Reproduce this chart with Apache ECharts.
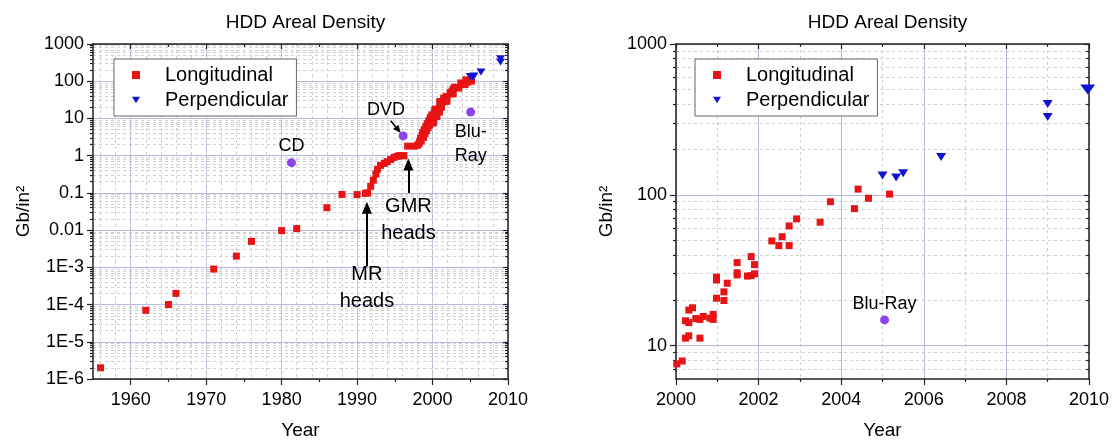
<!DOCTYPE html>
<html>
<head>
<meta charset="utf-8">
<script src="https://cdn.jsdelivr.net/npm/echarts@6/dist/echarts.min.js"></script>
<style>
  html, body { margin: 0; padding: 0; background: #fff; }
  #chart { width: 1117px; height: 441px; }
</style>
</head>
<body>
<div id="chart"></div>
<script>
// Hard-disk areal density (Gb/in²) by year, with optical discs for reference.

// Longitudinal recording, 1956-1999
const longitudinalEarly = [
  [1956, 2e-6], [1962, 7e-5], [1965, 1e-4], [1966, 2e-4], [1971, 9e-4], [1974, 2e-3],
  [1976, 5e-3], [1980, 0.0097], [1982, 0.011], [1986, 0.04], [1988, 0.091], [1990, 0.09],
  [1991.1, 0.097], [1991.4, 0.1], [1991.8, 0.15], [1992.15, 0.22], [1992.5, 0.32],
  [1992.7, 0.43], [1993.1, 0.55], [1993.6, 0.62], [1994.0, 0.69], [1994.45, 0.79],
  [1994.9, 0.9], [1995.3, 0.96], [1995.6, 1.0], [1995.9, 1.0], [1996.2, 1.0],
  [1996.7, 1.8], [1997.6, 1.8], [1998.0, 1.9], [1998.2, 2.1],
  [1998.3, 2.4], [1998.4, 2.9], [1998.5, 2.5], [1998.6, 3.5], [1998.7, 4.2], [1998.8, 3.1],
  [1998.9, 5.0], [1999.0, 3.9], [1999.1, 6.0], [1999.2, 4.7], [1999.3, 7.2], [1999.4, 5.6],
  [1999.5, 8.7], [1999.6, 6.6], [1999.7, 10.5], [1999.8, 8.0], [1999.9, 12.5], [1999.95, 9.3]
];

// Longitudinal recording, 2000-2005
const longitudinalRecent = [
  [2000.02, 7.55], [2000.15, 7.9], [2000.23, 11.2], [2000.31, 11.6], [2000.23, 14.6],
  [2000.31, 14.2], [2000.31, 17.2], [2000.4, 17.8], [2000.48, 15.1], [2000.58, 14.9],
  [2000.58, 11.2], [2000.66, 15.6], [2000.82, 15.2], [2000.9, 14.9], [2000.9, 16.1],
  [2000.98, 20.6], [2000.98, 28.4], [2000.98, 27.2], [2001.16, 22.7], [2001.16, 19.9],
  [2001.24, 25.9], [2001.48, 35.5], [2001.48, 30.4], [2001.48, 29.4], [2001.73, 28.9],
  [2001.82, 29.1], [2001.82, 38.9], [2001.9, 34.4], [2001.9, 29.9], [2002.32, 49.4],
  [2002.49, 46], [2002.57, 52.7], [2002.74, 46], [2002.74, 62.1], [2002.92, 69.2],
  [2003.49, 65.8], [2003.74, 89.9], [2004.32, 80.9], [2004.41, 109], [2004.66, 94.8],
  [2005.17, 101]
];

// Perpendicular recording
const perpendicular = [
  [2005.0, 134], [2005.33, 130], [2005.5, 139], [2006.42, 178], [2009.0, 400], [2009.0, 328]
];
const perpendicularLatest = [[2009.97, 500]];

// Optical discs
const opticalNames = ['CD', 'DVD', 'Blu-Ray'];
const opticalYears = [1981.3, 1996.1, 2005.05];
const opticalDensity = [0.65, 3.4, 14.8];

// Axis ticks and labels
const overviewYearTicks = [1960, 1970, 1980, 1990, 2000, 2010];
const overviewYearMinorTicks = [1965, 1975, 1985, 1995, 2005];
const overviewDensityTicks = [1e-6, 1e-5, 1e-4, 1e-3, 0.01, 0.1, 1, 10, 100, 1000];
const overviewDensityLabels = ['1E-6', '1E-5', '1E-4', '1E-3', '0.01', '0.1', '1', '10', '100', '1000'];
const detailDensityTicks = [10, 100, 1000];
const detailDensityLabels = ['10', '100', '1000'];

// ---- styling ----
const FONT = '"Liberation Sans", Arial, sans-serif';
const INK = '#000';
const AXIS_COLOR = '#222';
const MAJOR_GRID = '#b7b7e2';
const MINOR_GRID = '#d0d0d0';
const RED = '#e61414';
const BLUE = '#1212d2';
const PURPLE = '#8a44ee';
const TRIANGLE_DOWN = 'path://M0,0L10,0L5,8Z';
const ARROW_HEAD = 'path://M5,0L10,12L0,12Z';

// Minor log-scale tick values (2..9 x 10^k) inside [lo, hi]
function minorLogValues(lo, hi) {
  const out = [];
  for (let k = Math.floor(Math.log10(lo)); k <= Math.ceil(Math.log10(hi)); k++) {
    for (let m = 2; m <= 9; m++) {
      const v = Number((m * Math.pow(10, k)).toPrecision(6));
      if (v > lo && v < hi) out.push(v);
    }
  }
  return out;
}
function evenYears(lo, hi) {
  const out = [];
  for (let y = Math.ceil(lo / 2) * 2; y <= hi; y += 2) out.push(y);
  return out;
}
function labelFor(ticks, labels) {
  return function (v) {
    for (let i = 0; i < ticks.length; i++) {
      if (Math.abs(Math.log10(ticks[i]) - Math.log10(v)) < 1e-6) return labels[i];
    }
    return '';
  };
}
function plainYear(v) { return String(Math.round(v)); }

const labelText = { fontSize: 18, color: INK, fontFamily: FONT };
const nameText = { fontSize: 19, color: INK, fontFamily: FONT };
const axisLineStyle = { show: true, onZero: false, lineStyle: { color: AXIS_COLOR, width: 1.5 } };
const hiddenLine = { show: false, onZero: false };
const tickStyle = { color: AXIS_COLOR, width: 1.2 };

const OV = { xMin: 1955, xMax: 2010, yMin: 1e-6, yMax: 1000 };
const DT = { xMin: 2000, xMax: 2010, yMin: 6, yMax: 1000 };

const xAxes = [
  // overview, bottom: labels and decade ticks
  { gridIndex: 0, type: 'value', min: OV.xMin, max: OV.xMax, position: 'bottom',
    axisLine: axisLineStyle,
    axisTick: { show: true, customValues: overviewYearTicks, length: 6, lineStyle: tickStyle },
    axisLabel: Object.assign({ customValues: overviewYearTicks, margin: 12, formatter: plainYear }, labelText),
    splitLine: { show: true, lineStyle: { color: MAJOR_GRID, width: 1 } },
    name: 'Year', nameLocation: 'middle', nameGap: 42, nameTextStyle: nameText },
  // overview, bottom: half-decade ticks
  { gridIndex: 0, type: 'value', min: OV.xMin, max: OV.xMax, position: 'bottom',
    axisLine: hiddenLine, axisLabel: { show: false },
    axisTick: { show: true, customValues: overviewYearMinorTicks, length: 3, lineStyle: tickStyle },
    splitLine: { show: false } },
  // overview: dashed grid every two years
  { gridIndex: 0, type: 'value', min: OV.xMin, max: OV.xMax, position: 'bottom',
    axisLine: hiddenLine, axisLabel: { show: false },
    axisTick: { show: false, customValues: evenYears(OV.xMin, OV.xMax) },
    splitLine: { show: true, lineStyle: { color: MINOR_GRID, width: 1, type: [3, 3] } } },
  // overview, top frame
  { gridIndex: 0, type: 'value', min: OV.xMin, max: OV.xMax, position: 'top',
    axisLine: axisLineStyle, axisLabel: { show: false },
    axisTick: { show: true, inside: true, customValues: overviewYearTicks, length: 5, lineStyle: tickStyle },
    splitLine: { show: false } },
  { gridIndex: 0, type: 'value', min: OV.xMin, max: OV.xMax, position: 'top',
    axisLine: hiddenLine, axisLabel: { show: false },
    axisTick: { show: true, inside: true, customValues: overviewYearMinorTicks, length: 3, lineStyle: tickStyle },
    splitLine: { show: false } },
  // detail, bottom
  { gridIndex: 1, type: 'value', min: DT.xMin, max: DT.xMax, interval: 2, position: 'bottom',
    axisLine: axisLineStyle,
    axisTick: { show: true, length: 6, lineStyle: tickStyle },
    minorTick: { show: true, splitNumber: 2, length: 3, lineStyle: tickStyle },
    minorSplitLine: { show: true, lineStyle: { color: MINOR_GRID, width: 1, type: [3, 3] } },
    axisLabel: Object.assign({ margin: 12, formatter: plainYear }, labelText),
    splitLine: { show: true, lineStyle: { color: MAJOR_GRID, width: 1 } },
    name: 'Year', nameLocation: 'middle', nameGap: 42, nameTextStyle: nameText },
  // detail, top frame
  { gridIndex: 1, type: 'value', min: DT.xMin, max: DT.xMax, interval: 2, position: 'top',
    axisLine: axisLineStyle, axisLabel: { show: false },
    axisTick: { show: true, inside: true, length: 5, lineStyle: tickStyle },
    minorTick: { show: true, splitNumber: 2, length: 3, lineStyle: tickStyle },
    splitLine: { show: false } }
];

function logAxes(gridIndex, lo, hi, majorTicks, majorLabels, nameGap) {
  const minor = minorLogValues(lo, hi);
  return [
    { gridIndex, type: 'log', min: lo, max: hi, position: 'left',
      axisLine: axisLineStyle,
      axisTick: { show: true, customValues: majorTicks, length: 6, lineStyle: tickStyle },
      axisLabel: Object.assign({ customValues: majorTicks, margin: 9,
        formatter: labelFor(majorTicks, majorLabels) }, labelText),
      splitLine: { show: true, lineStyle: { color: MAJOR_GRID, width: 1 } },
      name: 'Gb/in²', nameLocation: 'middle', nameGap, nameTextStyle: nameText },
    { gridIndex, type: 'log', min: lo, max: hi, position: 'left',
      axisLine: hiddenLine, axisLabel: { show: false },
      axisTick: { show: true, customValues: minor, length: 3, lineStyle: tickStyle },
      splitLine: { show: true, lineStyle: { color: MINOR_GRID, width: 1, type: [3, 3] } } },
    { gridIndex, type: 'log', min: lo, max: hi, position: 'right',
      axisLine: axisLineStyle, axisLabel: { show: false },
      axisTick: { show: true, inside: true, customValues: majorTicks, length: 5, lineStyle: tickStyle },
      splitLine: { show: false } },
    { gridIndex, type: 'log', min: lo, max: hi, position: 'right',
      axisLine: hiddenLine, axisLabel: { show: false },
      axisTick: { show: true, inside: true, customValues: minor, length: 3, lineStyle: tickStyle },
      splitLine: { show: false } }
  ];
}

const yAxes = logAxes(0, OV.yMin, OV.yMax, overviewDensityTicks, overviewDensityLabels, 60)
  .concat(logAxes(1, DT.yMin, DT.yMax, detailDensityTicks, detailDensityLabels, 60));

// Disc labels: text and placement relative to the marker
const discLabelsOverview = {
  'CD': { text: 'CD', offset: [0, -17] },
  'DVD': { text: 'DVD', offset: [-17, -26] },
  'Blu-Ray': { text: 'Blu-\nRay', offset: [0, 32] }
};
const discLabelsDetail = {
  'Blu-Ray': { text: 'Blu-Ray', offset: [0, -16] }
};

function discItems(xMin, labelMap) {
  const items = [];
  opticalNames.forEach(function (name, i) {
    if (opticalYears[i] < xMin) return;
    const lab = labelMap[name];
    items.push({
      name: name,
      value: [opticalYears[i], opticalDensity[i]],
      label: lab ? { show: true, position: 'inside', offset: lab.offset, formatter: lab.text,
        fontSize: 18, lineHeight: 24, color: INK, fontFamily: FONT } : { show: false }
    });
  });
  return items;
}

// Head-technology annotations on the overview
const headNotes = [
  { text: 'MR\nheads', at: [1991.3, 2.8e-4], from: [1991.3, 1.05e-3], to: [1991.3, 0.04] },
  { text: 'GMR\nheads', at: [1996.8, 0.019], from: [1996.8, 0.1], to: [1996.8, 0.58] }
];
const dvdPointer = { from: [1994.45, 8.7], to: [1995.45, 4.9] };

const markerStyle = function (color) { return { color: color, opacity: 1 }; };

const series = [
  { name: 'Longitudinal', type: 'scatter', xAxisIndex: 0, yAxisIndex: 0,
    symbol: 'rect', symbolSize: 7, itemStyle: markerStyle(RED),
    data: longitudinalEarly.concat(longitudinalRecent), z: 5 },
  { name: 'Perpendicular', type: 'scatter', xAxisIndex: 0, yAxisIndex: 0,
    symbol: TRIANGLE_DOWN, symbolSize: [9, 7], itemStyle: markerStyle(BLUE),
    data: perpendicular, z: 6 },
  { name: 'Optical', type: 'scatter', xAxisIndex: 0, yAxisIndex: 0,
    symbol: 'circle', symbolSize: 9, itemStyle: markerStyle(PURPLE),
    data: discItems(OV.xMin, discLabelsOverview), z: 7 },
  { name: 'Heads', type: 'scatter', xAxisIndex: 0, yAxisIndex: 0,
    symbol: 'circle', symbolSize: 1, itemStyle: { color: 'rgba(0,0,0,0)', opacity: 1 },
    data: headNotes.map(function (n) { return { value: n.at, label: { formatter: n.text } }; }),
    label: { show: true, position: 'inside', fontSize: 20, lineHeight: 27, color: INK,
      fontFamily: FONT, align: 'center', verticalAlign: 'middle' },
    markLine: {
      silent: true, animation: false,
      symbol: ['none', ARROW_HEAD], symbolSize: [10, 12],
      lineStyle: { color: '#000', width: 2, type: 'solid' },
      label: { show: false },
      data: headNotes.map(function (n) { return [{ coord: n.from }, { coord: n.to }]; })
        .concat([[{ coord: dvdPointer.from, lineStyle: { width: 1.5 } },
          { coord: dvdPointer.to, symbolSize: [7, 8] }]])
    },
    z: 8 },

  { name: 'Longitudinal', type: 'scatter', xAxisIndex: 5, yAxisIndex: 4,
    symbol: 'rect', symbolSize: 7, itemStyle: markerStyle(RED),
    data: longitudinalRecent, z: 5 },
  { name: 'Perpendicular', type: 'scatter', xAxisIndex: 5, yAxisIndex: 4,
    symbol: TRIANGLE_DOWN, itemStyle: markerStyle(BLUE),
    symbolSize: function (v) { return v[0] > 2009.5 ? [15, 10] : [10, 8]; },
    data: perpendicular.concat(perpendicularLatest), z: 6 },
  { name: 'Optical', type: 'scatter', xAxisIndex: 5, yAxisIndex: 4,
    symbol: 'circle', symbolSize: 9, itemStyle: markerStyle(PURPLE),
    data: discItems(DT.xMin, discLabelsDetail), z: 7 }
];

function legendAt(left) {
  return {
    left: left, top: 59, orient: 'vertical', selectedMode: false,
    data: [{ name: 'Longitudinal', icon: 'rect' }, { name: 'Perpendicular', icon: TRIANGLE_DOWN }],
    itemWidth: 8, itemHeight: 8, itemGap: 5,
    padding: [6, 8, 6, 18],
    borderColor: '#666', borderWidth: 1, backgroundColor: '#fff',
    textStyle: { fontSize: 20, color: INK, fontFamily: FONT, padding: [0, 0, 0, 20] },
    z: 10
  };
}

const titleText = { fontSize: 19, fontWeight: 'normal', color: INK, fontFamily: FONT };

const option = {
  animation: false,
  backgroundColor: '#fff',
  textStyle: { fontFamily: FONT },
  title: [
    { text: 'HDD Areal Density', left: 300.5, top: 8, textAlign: 'center', textStyle: titleText },
    { text: 'HDD Areal Density', left: 882.5, top: 8, textAlign: 'center', textStyle: titleText }
  ],
  legend: [legendAt(114), legendAt(695)],
  grid: [
    { left: 93, right: 1117 - 508, top: 44, bottom: 441 - 379, outerBoundsMode: 'none' },
    { left: 676, right: 1117 - 1089, top: 44, bottom: 441 - 379, outerBoundsMode: 'none' }
  ],
  xAxis: xAxes,
  yAxis: yAxes,
  series: series
};

const chart = echarts.init(document.getElementById('chart'), null, { renderer: 'canvas' });
chart.setOption(option);
</script>
</body>
</html>
